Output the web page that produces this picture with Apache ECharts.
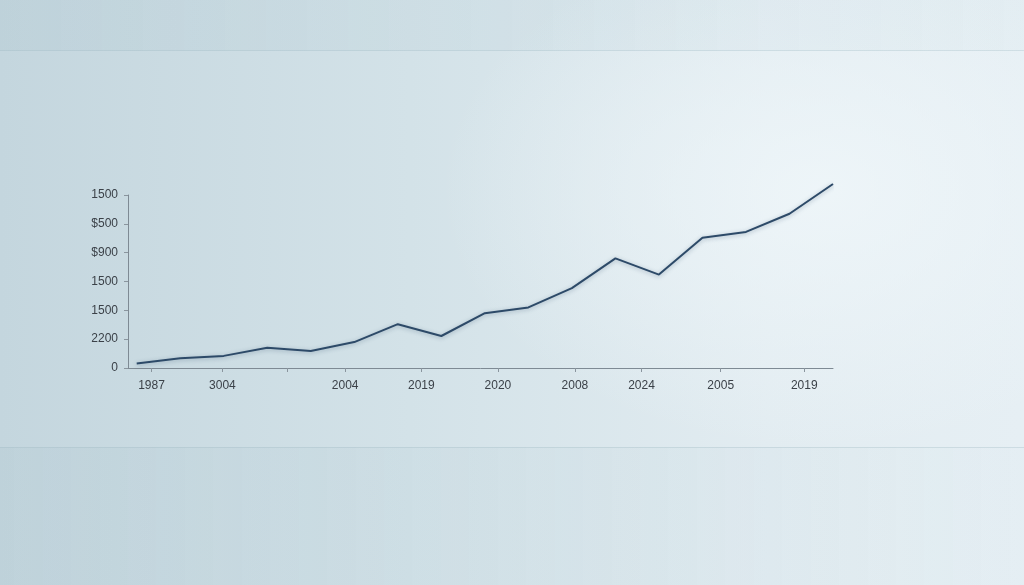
<!DOCTYPE html>
<html>
<head>
<meta charset="utf-8">
<script src="https://cdn.jsdelivr.net/npm/echarts@6/dist/echarts.min.js"></script>
<style>
html,body{margin:0;padding:0;width:1024px;height:585px;overflow:hidden;}
#bg{position:absolute;left:0;top:0;width:1024px;height:585px;
 background:
  radial-gradient(ellipse 380px 260px at 820px 190px, rgba(240,247,250,0.8), rgba(240,247,250,0) 100%),
  linear-gradient(to right, #c4d6de 0%, #d3e2e8 40%, #e2ecf1 75%, #e6eff4 100%);}
#topband{position:absolute;left:0;top:0;width:1024px;height:50px;
 background:linear-gradient(to right, rgba(170,195,205,0.22), rgba(200,220,228,0.12));
 border-bottom:1px solid rgba(160,185,195,0.3);}
#floor{position:absolute;left:0;top:447px;width:1024px;height:138px;
 background:linear-gradient(to right, rgba(170,195,205,0.22), rgba(210,228,235,0.08));
 border-top:1px solid rgba(160,185,195,0.35);}
#chart{position:absolute;left:0;top:0;width:1024px;height:585px;}
</style>
</head>
<body>
<div id="bg"></div>
<div id="topband"></div>
<div id="floor"></div>
<div id="chart"></div>
<script>
// y tick labels (bottom to top)
const yTickLabels = ['0', '2200', '1500', '1500', '$900', '$500', '1500'];
// x tick positions (axis units) and their labels ('' = tick without label)
const xTickPositions = [0.34, 1.97, 3.46, 4.79, 6.54, 8.30, 10.07, 11.6, 13.42, 15.34];
const xTickLabels = ['1987', '3004', '', '2004', '2019', '2020', '2008', '2024', '2005', '2019'];
// series values (in y tick units)
const seriesValues = [0.16, 0.34, 0.42, 0.70, 0.59, 0.90, 1.52, 1.11, 1.90, 2.10, 2.77, 3.80, 3.24, 4.52, 4.72, 5.35, 6.38];

const chart = echarts.init(document.getElementById('chart'), null, {renderer: 'canvas'});
const data = seriesValues.map((v, i) => [i, v]);
const labelPositions = xTickPositions.filter((p, i) => xTickLabels[i] !== '');
const textStyle = {color: '#3b4148', fontSize: 12, fontFamily: 'Liberation Sans, Arial, sans-serif'};

chart.setOption({
  backgroundColor: 'transparent',
  animation: false,
  grid: {left: 128, right: 191, top: 195, bottom: 217, containLabel: false},
  xAxis: {
    type: 'value', min: -0.2, max: 16,
    axisLine: {show: true, onZero: false, lineStyle: {color: '#7e8a94', width: 1}},
    axisTick: {show: true, length: 4, lineStyle: {color: '#8a959e'}, customValues: xTickPositions},
    axisLabel: Object.assign({
      margin: 12,
      customValues: labelPositions,
      formatter: function (v) {
        let best = 0, d = 1e9;
        xTickPositions.forEach((p, i) => { if (Math.abs(p - v) < d) { d = Math.abs(p - v); best = i; } });
        return xTickLabels[best];
      }
    }, textStyle),
    splitLine: {show: false}
  },
  yAxis: {
    type: 'value', min: 0, max: 6, interval: 1,
    axisLine: {show: true, onZero: false, lineStyle: {color: '#7e8a94', width: 1}},
    axisTick: {show: true, length: 4, lineStyle: {color: '#8a959e'}},
    axisLabel: Object.assign({
      margin: 10,
      formatter: function (v) { return yTickLabels[Math.round(v)]; }
    }, textStyle),
    splitLine: {show: false}
  },
  series: [{
    type: 'line',
    data: data,
    clip: false,
    symbol: 'none',
    lineStyle: {color: '#2d4a68', width: 2, shadowColor: 'rgba(40,70,100,0.35)', shadowBlur: 4, shadowOffsetY: 1}
  }]
});
</script>
</body>
</html>
